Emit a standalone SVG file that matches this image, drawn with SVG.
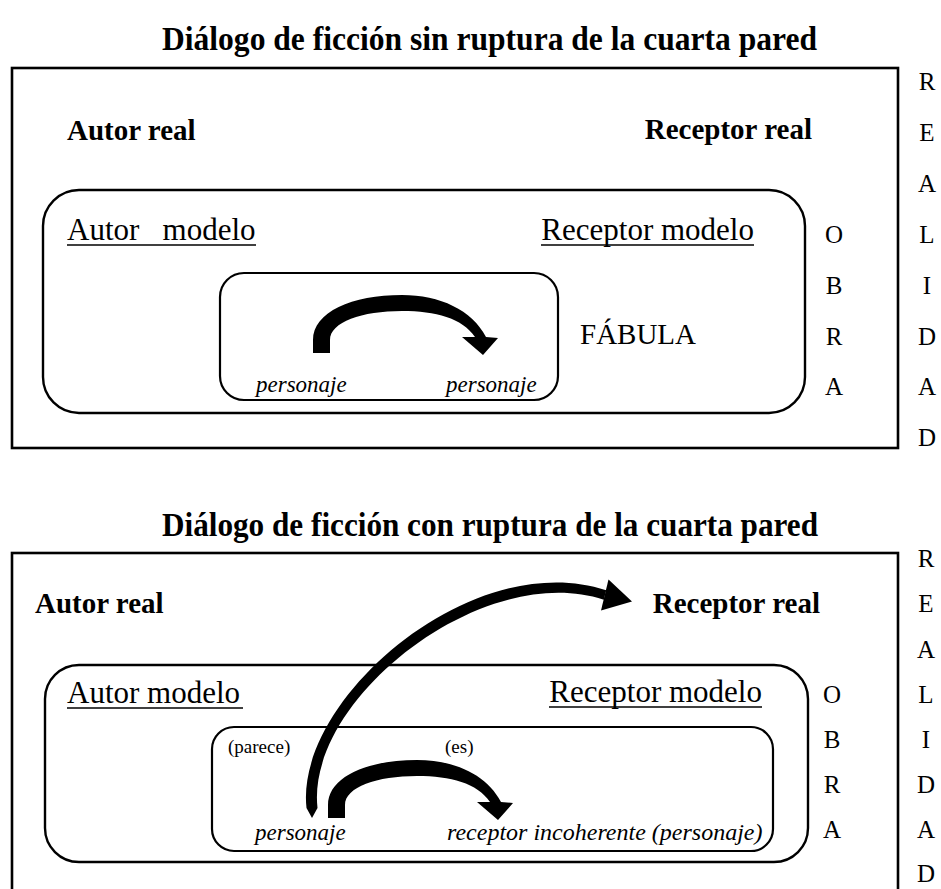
<svg xmlns="http://www.w3.org/2000/svg" width="941" height="889" viewBox="0 0 941 889">
<style>
  .title { font-family: "Liberation Serif", "Times New Roman", serif; font-weight: bold; font-size: 33px; fill: #000; }
  .real { font-family: "Liberation Serif", "Times New Roman", serif; font-weight: bold; font-size: 29px; fill: #000; }
  .model { font-family: "Liberation Serif", "Times New Roman", serif; font-size: 31px; fill: #000; }
  .letter { font-family: "Liberation Serif", "Times New Roman", serif; font-size: 25px; fill: #000; text-anchor: middle; }
  .pers { font-family: "Liberation Serif", "Times New Roman", serif; font-style: italic; font-size: 23px; fill: #000; }
  .small { font-family: "Liberation Serif", "Times New Roman", serif; font-size: 19px; fill: #000; }
  .outer { fill: none; stroke: #000; stroke-width: 2.6; }
  .mid { fill: none; stroke: #000; stroke-width: 2.4; }
  .inner { fill: none; stroke: #000; stroke-width: 2.2; }
  .ul { stroke: #000; stroke-width: 1.5; }
  .arrow { fill: #000; stroke: none; }
</style>
<defs>
  <path id="shortArrow" d="M313,353 L313,340 C313,312 352,295 402,295 C440,295 472,310 486,337 L498,338 L483,355 L462,337 L475,337 C462,318 436,311 402,311 C362,311 330,322 330,340 L330,353 Z"/>
</defs>
<rect width="941" height="889" fill="#fff"/>

<!-- ===== Top diagram ===== -->
<g id="title-top">
  <text class="title" x="162" y="50" textLength="655" lengthAdjust="spacingAndGlyphs">Diálogo de ficción sin ruptura de la cuarta pared</text>
</g>
<g id="realidad-top">
  <rect class="outer" x="12" y="68" width="886" height="380"/>
  <text class="letter" x="927" y="90">R</text>
  <text class="letter" x="927" y="141">E</text>
  <text class="letter" x="927" y="192">A</text>
  <text class="letter" x="927" y="243">L</text>
  <text class="letter" x="927" y="294">I</text>
  <text class="letter" x="927" y="345">D</text>
  <text class="letter" x="927" y="395">A</text>
  <text class="letter" x="927" y="446">D</text>
</g>
<g id="autor-real-top">
  <text class="real" x="67" y="140">Autor real</text>
</g>
<g id="receptor-real-top">
  <text class="real" x="812" y="139" text-anchor="end">Receptor real</text>
</g>
<g id="obra-top">
  <rect class="mid" x="43" y="190" width="762" height="223" rx="36" ry="36"/>
  <text class="letter" x="834" y="243">O</text>
  <text class="letter" x="834" y="294">B</text>
  <text class="letter" x="834" y="345">R</text>
  <text class="letter" x="834" y="395">A</text>
</g>
<g id="autor-modelo-top">
  <text class="model" x="67" y="240" xml:space="preserve">Autor   modelo</text>
  <line class="ul" x1="67" y1="245" x2="256" y2="245"/>
</g>
<g id="receptor-modelo-top">
  <text class="model" x="754" y="240" text-anchor="end">Receptor modelo</text>
  <line class="ul" x1="541" y1="245" x2="754" y2="245"/>
</g>
<g id="fabula-top">
  <rect class="inner" x="220" y="273" width="338" height="127" rx="24" ry="24"/>
  <text class="model" x="580" y="344" style="font-size:29px">FÁBULA</text>
</g>
<g id="personaje-a-top">
  <text class="pers" x="256" y="392">personaje</text>
</g>
<g id="personaje-b-top">
  <text class="pers" x="446" y="392">personaje</text>
</g>

<!-- ===== Bottom diagram ===== -->
<g id="title-bottom">
  <text class="title" x="162" y="536" textLength="656" lengthAdjust="spacingAndGlyphs">Diálogo de ficción con ruptura de la cuarta pared</text>
</g>
<g id="realidad-bottom">
  <rect class="outer" x="12" y="553" width="886" height="350"/>
  <text class="letter" x="926" y="567">R</text>
  <text class="letter" x="926" y="612">E</text>
  <text class="letter" x="926" y="658">A</text>
  <text class="letter" x="926" y="703">L</text>
  <text class="letter" x="926" y="748">I</text>
  <text class="letter" x="926" y="793">D</text>
  <text class="letter" x="926" y="838">A</text>
  <text class="letter" x="926" y="882">D</text>
</g>
<g id="autor-real-bottom">
  <text class="real" x="35" y="613">Autor real</text>
</g>
<g id="receptor-real-bottom">
  <text class="real" x="820" y="613" text-anchor="end">Receptor real</text>
</g>
<g id="obra-bottom">
  <rect class="mid" x="45" y="665" width="763" height="197" rx="34" ry="34"/>
  <text class="letter" x="832" y="703">O</text>
  <text class="letter" x="832" y="748">B</text>
  <text class="letter" x="832" y="793">R</text>
  <text class="letter" x="832" y="838">A</text>
</g>
<g id="autor-modelo-bottom">
  <text class="model" x="67" y="703">Autor modelo</text>
  <line class="ul" x1="67" y1="708" x2="243" y2="708"/>
</g>
<g id="receptor-modelo-bottom">
  <text class="model" x="762" y="702" text-anchor="end">Receptor modelo</text>
  <line class="ul" x1="549" y1="707" x2="762" y2="707"/>
</g>
<g id="fabula-bottom">
  <rect class="inner" x="212" y="727" width="561" height="124" rx="22" ry="22"/>
  <text class="small" x="228" y="753">(parece)</text>
  <text class="small" x="445" y="753">(es)</text>
</g>
<g id="personaje-bottom">
  <text class="pers" x="255" y="840">personaje</text>
</g>
<g id="receptor-incoherente-bottom">
  <text class="pers" x="447" y="840" style="font-size:24px">receptor incoherente (personaje)</text>
</g>

<!-- ===== Connectors ===== -->
<g id="connectors">
  <use href="#shortArrow" class="arrow"/>
  <use href="#shortArrow" class="arrow" transform="translate(15,465)"/>
  <path class="arrow" d="M306.5,808 C294.5,700 472,546 606.2,590.2 L603.8,599.8 C482,560 305.5,700 317.5,808 L312,818 Z"/>
  <polygon class="arrow" points="608.5,579.5 632,601.5 601,610.5"/>
</g>
</svg>
